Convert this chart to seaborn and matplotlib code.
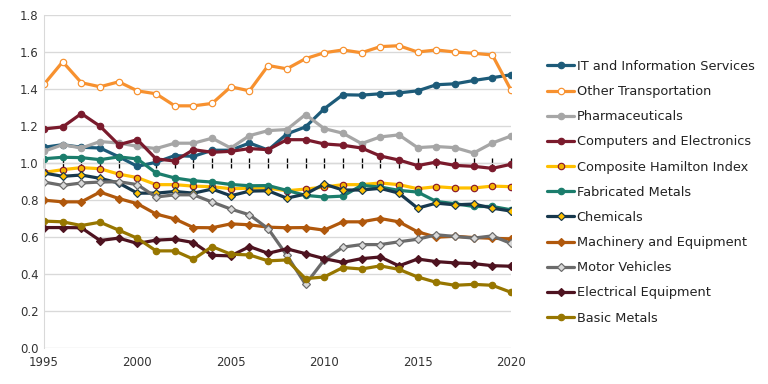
import numpy as np
import pandas as pd
import matplotlib
matplotlib.use("Agg")
import matplotlib.pyplot as plt
import seaborn as sns

years = list(range(1995, 2021))

it_services = [1.085, 1.099, 1.085, 1.081, 1.034, 0.982, 1.004, 1.040, 1.036, 1.069, 1.069, 1.108, 1.070,
               1.157, 1.195, 1.293, 1.369, 1.367, 1.374, 1.379, 1.390, 1.423, 1.428, 1.446, 1.461, 1.477]
other_transport = [1.425, 1.547, 1.434, 1.412, 1.439, 1.390, 1.374, 1.309, 1.309, 1.322, 1.412, 1.390, 1.527,
                   1.509, 1.564, 1.596, 1.611, 1.596, 1.629, 1.634, 1.600, 1.611, 1.600, 1.593, 1.584, 1.394]
pharma = [1.063, 1.099, 1.081, 1.116, 1.108, 1.090, 1.078, 1.107, 1.107, 1.134, 1.081, 1.148, 1.175,
          1.181, 1.262, 1.186, 1.161, 1.105, 1.141, 1.152, 1.083, 1.089, 1.083, 1.054, 1.108, 1.146]
computers = [1.184, 1.195, 1.267, 1.199, 1.099, 1.126, 1.022, 1.011, 1.072, 1.058, 1.063, 1.078, 1.072,
             1.126, 1.126, 1.103, 1.096, 1.081, 1.038, 1.016, 0.986, 1.005, 0.987, 0.982, 0.971, 0.993]
composite = [0.949, 0.964, 0.975, 0.969, 0.940, 0.921, 0.883, 0.883, 0.875, 0.872, 0.861, 0.864, 0.864,
             0.850, 0.859, 0.870, 0.883, 0.883, 0.892, 0.883, 0.861, 0.872, 0.865, 0.865, 0.875, 0.872]
fab_metals = [1.023, 1.031, 1.029, 1.018, 1.033, 1.022, 0.946, 0.919, 0.904, 0.897, 0.884, 0.877, 0.878,
              0.852, 0.825, 0.816, 0.821, 0.879, 0.870, 0.852, 0.843, 0.792, 0.780, 0.765, 0.765, 0.747]
chemicals = [0.946, 0.928, 0.935, 0.917, 0.892, 0.837, 0.837, 0.846, 0.837, 0.859, 0.823, 0.848, 0.850,
             0.810, 0.832, 0.886, 0.854, 0.854, 0.863, 0.837, 0.756, 0.783, 0.774, 0.778, 0.756, 0.740]
machinery = [0.799, 0.790, 0.790, 0.843, 0.808, 0.780, 0.724, 0.698, 0.651, 0.650, 0.671, 0.666, 0.653,
             0.650, 0.651, 0.637, 0.682, 0.682, 0.700, 0.682, 0.628, 0.599, 0.604, 0.597, 0.593, 0.590]
motor = [0.897, 0.879, 0.892, 0.897, 0.899, 0.883, 0.816, 0.828, 0.828, 0.789, 0.751, 0.720, 0.645,
         0.501, 0.344, 0.476, 0.545, 0.559, 0.559, 0.574, 0.588, 0.612, 0.603, 0.594, 0.606, 0.565]
electrical = [0.651, 0.651, 0.650, 0.581, 0.594, 0.565, 0.583, 0.588, 0.570, 0.501, 0.498, 0.548, 0.512,
              0.536, 0.510, 0.483, 0.463, 0.483, 0.492, 0.444, 0.481, 0.467, 0.460, 0.456, 0.445, 0.442]
basic_metals = [0.686, 0.682, 0.662, 0.680, 0.637, 0.593, 0.525, 0.525, 0.480, 0.548, 0.507, 0.503, 0.471,
                0.476, 0.375, 0.384, 0.435, 0.427, 0.444, 0.425, 0.384, 0.355, 0.339, 0.344, 0.339, 0.301]

# name, values, line colour, marker, face colour, edge colour
series = [
    ("IT and Information Services", it_services, "#1d5b79", "o", "#1d5b79", "#1d5b79"),
    ("Other Transportation", other_transport, "#f7912f", "o", "white", "#f7912f"),
    ("Pharmaceuticals", pharma, "#a6a6a6", "o", "#a6a6a6", "#a6a6a6"),
    ("Computers and Electronics", computers, "#7a1a2c", "o", "#7a1a2c", "#7a1a2c"),
    ("Composite Hamilton Index", composite, "#ffc000", "o", "#f5b400", "#8b1a2a"),
    ("Fabricated Metals", fab_metals, "#1b7d6c", "o", "#1b7d6c", "#1b7d6c"),
    ("Chemicals", chemicals, "#17384d", "D", "#ffc000", "#17384d"),
    ("Machinery and Equipment", machinery, "#b0580c", "D", "#b0580c", "#b0580c"),
    ("Motor Vehicles", motor, "#6b6b6b", "D", "#d9d9d9", "#6b6b6b"),
    ("Electrical Equipment", electrical, "#4e1320", "D", "#4e1320", "#4e1320"),
    ("Basic Metals", basic_metals, "#977600", "o", "#977600", "#977600"),
]

sns.set_style("white")
plt.rcParams['font.family'] = ['DejaVu Sans']

fig = plt.figure(figsize=(8, 4), dpi=96)
ax = fig.add_axes([44 / 768, 1 - 348 / 384, (511 - 44) / 768, (348 - 15) / 384])

for name, vals, col, mk, fc, ec in series:
    ms = 4.8 if mk == "o" else 4.4
    sns.lineplot(x=years, y=vals, ax=ax, color=col, linewidth=2.4, marker=mk,
                 markersize=ms, markerfacecolor=fc, markeredgecolor=ec,
                 markeredgewidth=0.9, label=name)

ax.set_xlim(1995, 2020)
ax.set_ylim(0, 1.8)
ax.set_yticks(np.arange(0, 1.81, 0.2))
ax.set_yticklabels([f"{v:.1f}" for v in np.arange(0, 1.81, 0.2)])
ax.set_xticks(range(1995, 2021, 5))
ax.grid(axis="y", color="#d9d9d9", linewidth=1)
ax.set_axisbelow(True)
for s in ["top", "right", "bottom"]:
    ax.spines[s].set_visible(False)
ax.spines["left"].set_color("#d9d9d9")
ax.tick_params(axis="both", length=0, labelsize=8.8, labelcolor="#333333")
ax.tick_params(axis="x", pad=6)
ax.tick_params(axis="y", pad=4)

# black baseline at 1.0 with yearly ticks
sec = ax.secondary_xaxis(1.0 / 1.8)
sec.set_xticks(years)
sec.tick_params(axis="x", direction="inout", length=7, width=1, colors="black", labelbottom=False)
sec.spines["bottom"].set_color("black")
sec.spines["bottom"].set_linewidth(1.2)
sec.set_xticklabels([])

handles, labels = ax.get_legend_handles_labels()
ax.get_legend().remove()
fig.legend(handles, labels, loc="upper left", bbox_to_anchor=(547 / 768, 1 - 60 / 384),
           frameon=False, fontsize=9.7, handlelength=2.1, handletextpad=0.2,
           labelspacing=0.94, borderpad=0, borderaxespad=0, labelcolor="#222222")

fig.savefig("out.png", dpi=96)
